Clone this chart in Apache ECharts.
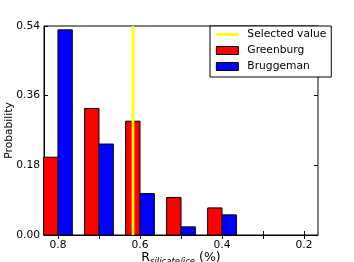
<!DOCTYPE html>
<html><head><meta charset="utf-8">
<script src="https://cdn.jsdelivr.net/npm/echarts@6/dist/echarts.min.js"></script>
<style>html,body{margin:0;padding:0;background:#fff}#c{width:354px;height:262px}</style>
</head><body><div id="c"></div>
<script>
const binCenters = [0.8, 0.7, 0.6, 0.5, 0.4];
const greenburg = [0.201, 0.327, 0.294, 0.097, 0.070];
const bruggeman = [0.530, 0.235, 0.107, 0.021, 0.052];
const selectedValue = 0.617;
const xTicks = [0.8, 0.7, 0.6, 0.5, 0.4, 0.3, 0.2];
const xTickLabels = [0.8, 0.6, 0.4, 0.2];
const barHalf = 0.035;
const F = 'DejaVu Sans';
const FS = 10.7;

function barSeries(name, values, color, side) {
  return {
    name: name, type: 'custom',
    itemStyle: { color: color, borderColor: '#000', borderWidth: 1 },
    data: binCenters.map((c, i) => [c, values[i]]),
    encode: { x: 0, y: 1 },
    renderItem: function (params, api) {
      const c = api.value(0), h = api.value(1);
      const x0 = side < 0 ? c + barHalf : c;
      const x1 = side < 0 ? c : c - barHalf;
      const p0 = api.coord([x0, h]);
      const p1 = api.coord([x1, 0]);
      return {
        type: 'rect',
        shape: { x: Math.min(p0[0], p1[0]), y: p0[1], width: Math.abs(p1[0] - p0[0]), height: p1[1] - p0[1] },
        style: { fill: color, stroke: '#000', lineWidth: 1 }
      };
    }
  };
}

const chart = echarts.init(document.getElementById('c'), null, { renderer: 'canvas' });
const axCommon = { color: '#000', fontFamily: F, fontSize: FS };
chart.setOption({
  animation: false,
  grid: { left: 44, right: 36, top: 26, bottom: 27, containLabel: false, outerBoundsMode: 'none',
          show: true, borderColor: '#000', borderWidth: 1 },
  xAxis: [{
    type: 'value', inverse: true, min: 0.166, max: 0.834,
    axisLine: { lineStyle: { color: '#000' } },
    axisTick: { inside: true, length: 4, customValues: xTicks, lineStyle: { color: '#000' } },
    axisLabel: Object.assign({ customValues: xTickLabels, margin: 5, formatter: v => v.toFixed(1) }, axCommon),
    splitLine: { show: false },
    name: '{r|R}{s|silicate/ice}{r| (%)}', nameLocation: 'middle', nameGap: 14, nameMoveOverlap: false,
    nameTextStyle: { rich: {
      r: { fontFamily: F, fontSize: 12.5, color: '#000' },
      s: { fontFamily: F, fontSize: 8.5, fontStyle: 'italic', color: '#000', padding: [8, 0, 0, 0] }
    } }
  }, {
    type: 'value', inverse: true, min: 0.166, max: 0.834, position: 'top',
    axisLine: { show: false },
    axisTick: { inside: true, length: 4, customValues: xTicks, lineStyle: { color: '#000' } },
    axisLabel: { show: false }, splitLine: { show: false }
  }],
  yAxis: [{
    type: 'value', min: 0, max: 0.54, interval: 0.18,
    axisLine: { show: true, lineStyle: { color: '#000' } },
    axisTick: { show: true, inside: true, length: 4, lineStyle: { color: '#000' } },
    axisLabel: Object.assign({ margin: 4, formatter: v => v.toFixed(2) }, axCommon),
    splitLine: { show: false },
    name: 'Probability', nameLocation: 'middle', nameGap: 29, nameMoveOverlap: false,
    nameTextStyle: { fontFamily: F, fontSize: FS, color: '#000' }
  }, {
    type: 'value', min: 0, max: 0.54, interval: 0.18, position: 'right',
    axisLine: { show: false },
    axisTick: { show: true, inside: true, length: 4, lineStyle: { color: '#000' } },
    axisLabel: { show: false }, splitLine: { show: false }
  }],
  legend: {
    left: 210, top: 26, orient: 'vertical',
    padding: [2, 5, 4, 5], itemGap: 3, itemWidth: 22, itemHeight: 8,
    backgroundColor: '#fff', borderColor: '#000', borderWidth: 1, borderRadius: 0,
    textStyle: { fontFamily: F, fontSize: FS, color: '#000', lineHeight: 13, padding: [0, 0, 0, 4] },
    data: [
      { name: 'Selected value', itemStyle: { opacity: 0 }, lineStyle: { color: '#ffff00', width: 2.7 } },
      { name: 'Greenburg', icon: 'rect', itemStyle: { color: '#ff0000', borderColor: '#000', borderWidth: 1 } },
      { name: 'Bruggeman', icon: 'rect', itemStyle: { color: '#0000ff', borderColor: '#000', borderWidth: 1 } }
    ],
    z: 20
  },
  series: [
    barSeries('Greenburg', greenburg, '#ff0000', -1),
    barSeries('Bruggeman', bruggeman, '#0000ff', 1),
    {
      name: 'Selected value', type: 'line', symbol: 'none', z: 10,
      lineStyle: { color: '#ffff00', width: 2.7 }, itemStyle: { color: '#ffff00' },
      data: [[selectedValue, 0], [selectedValue, 0.54]]
    }
  ]
});
</script></body></html>
